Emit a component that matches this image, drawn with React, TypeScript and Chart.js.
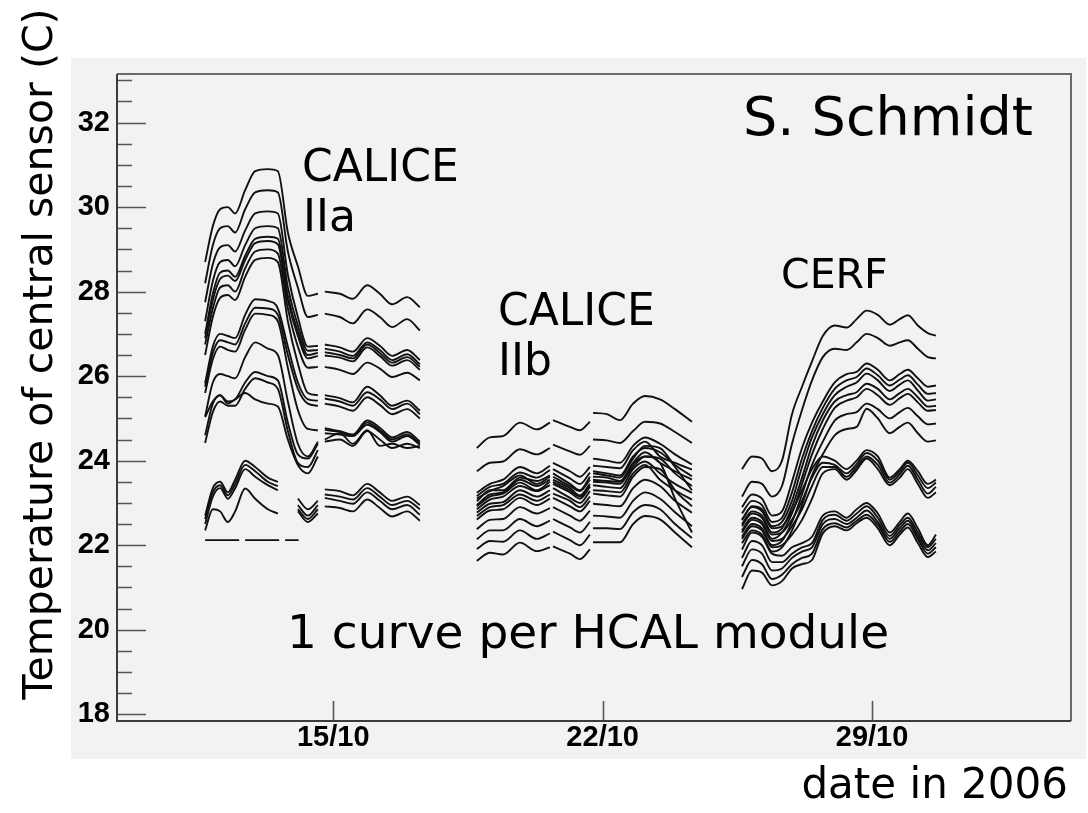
import { useEffect, useRef } from "react";
import { Chart, registerables } from "chart.js";

Chart.register(...registerables);

// Axis ranges: x in days of October 2006, y in degrees C
const dayMin = 9.38;
const dayMax = 34.17;
const tempMin = 17.84;
const tempMax = 33.15;

const dateTicks = [15, 22, 29];
const tempMajorTicks = [18, 20, 22, 24, 26, 28, 30, 32];
const tempMinorTicks = [
  18.5, 19, 19.5, 20.5, 21, 21.5, 22.5, 23, 23.5, 24.5, 25, 25.5, 26.5, 27, 27.5,
  28.5, 29, 29.5, 30.5, 31, 31.5, 32.5, 33,
];

// CALICE IIa run: sample times (day of October) and one row per module
const caliceIIaDays = [
  11.67, 11.87, 12.06, 12.26, 12.45, 12.71, 12.97, 13.3, 13.56, 13.82, 14.08,
  14.34, 14.6, 14.69, 14.78, 15.17, 15.51, 15.88, 16.21, 16.53, 16.92, 17.25,
];
const caliceIIaTemps: (number | null)[][] = [
  [28.7, 29.55, 29.95, 30.0, 29.85, 30.4, 30.85, 30.9, 30.85, 29.4, 28.6, 27.9, 27.95, null, 28.0, 27.95, 27.83, 28.15, 27.95, 27.7, 27.87, 27.63],
  [28.2, 29.1, 29.5, 29.55, 29.4, 29.95, 30.35, 30.4, 30.35, 28.95, 28.1, 27.4, 27.45, null, 27.48, 27.4, 27.25, 27.58, 27.4, 27.16, 27.35, 27.08],
  [27.75, 28.65, 29.05, 29.1, 28.95, 29.45, 29.85, 29.9, 29.85, 28.4, 27.4, 26.7, 26.72, null, 26.75, 26.68, 26.58, 26.9, 26.72, 26.48, 26.62, 26.38],
  [27.3, 28.25, 28.7, 28.75, 28.6, 29.1, 29.5, 29.55, 29.5, 28.1, 27.2, 26.6, 26.62, null, 26.65, 26.58, 26.48, 26.8, 26.62, 26.38, 26.52, 26.28],
  [27.0, 27.95, 28.45, 28.5, 28.35, 28.85, 29.25, 29.3, 29.25, 27.9, 27.05, 26.5, 26.55, null, 26.57, 26.5, 26.42, 26.75, 26.55, 26.32, 26.45, 26.22],
  [26.9, 27.8, 28.3, 28.38, 28.25, 28.75, 29.15, 29.2, 29.12, 27.8, 26.95, 26.42, 26.48, null, 26.49, 26.44, 26.35, 26.68, 26.48, 26.25, 26.38, 26.15],
  [26.75, 27.6, 28.1, 28.15, 28.0, 28.55, 28.95, 29.0, 28.9, 27.6, 26.7, 26.2, 26.22, null, 26.22, 26.15, 26.05, 26.32, 26.18, 25.98, 26.08, 25.9],
  [26.5, 27.4, 27.85, 27.92, 27.8, 28.35, 28.75, 28.8, 28.7, 27.3, 26.3, 25.6, 25.55, null, 25.55, 25.48, 25.38, 25.75, 25.55, 25.3, 25.42, 25.18],
  [25.83, 26.7, 27.0, 26.95, 26.9, 27.45, 27.82, 27.78, 27.6, 26.7, 25.85, 25.45, 25.42, null, 25.47, 25.4, 25.3, 25.62, 25.45, 25.22, 25.35, 25.1],
  [25.75, 26.55, 26.85, 26.8, 26.75, 27.25, 27.62, 27.6, 27.45, 26.5, 25.7, 25.35, 25.3, null, 25.35, 25.28, 25.18, 25.5, 25.32, 25.1, 25.22, 25.0],
  [25.6, 26.4, 26.7, 26.62, 26.58, 27.1, 27.48, 27.45, 27.3, 26.2, 25.2, 24.75, 24.72, null, 24.77, 24.7, 24.62, 24.95, 24.78, 24.55, 24.68, 24.45],
  [25.05, 25.85, 26.05, 26.0, 25.95, 26.45, 26.8, 26.65, 26.5, 25.4, 24.4, 24.1, 24.45, null, 24.73, 24.68, 24.6, 24.9, 24.72, 24.5, 24.62, 24.4],
  [24.6, 25.35, 25.55, 25.4, 25.45, 25.85, 26.1, 26.0, 25.9, 24.9, 24.15, 24.05, 24.4, null, 24.65, 24.62, 24.58, 24.85, 24.68, 24.45, 24.58, 24.38],
  [24.42, 25.15, 25.4, 25.3, 25.3, 25.7, 25.95, 25.85, 25.7, 24.7, 23.95, 23.85, 24.25, null, 24.5, 24.65, 24.4, 24.72, 24.35, 24.4, 24.3, 24.35],
  [25.03, 25.4, 25.55, 25.35, 25.45, 25.6, 25.45, 25.35, 25.28, 24.5, 23.9, 23.7, 24.1, null, 24.45, 24.5, 24.35, 24.7, 24.5, 24.3, 24.4, 24.3],
  [22.7, 23.35, 23.5, 23.25, 23.55, 24.0, 23.85, 23.6, 23.5, null, 23.1, 22.85, 23.05, null, 23.32, 23.28, 23.18, 23.45, 23.25, 23.05, 23.15, 22.95],
  [22.62, 23.25, 23.42, 23.18, 23.45, 23.9, 23.75, 23.5, 23.4, null, 22.95, 22.7, 22.95, null, 23.2, 23.15, 23.08, 23.35, 23.15, 22.95, 23.05, 22.85],
  [22.5, 23.15, 23.35, 23.1, 23.35, 23.8, 23.62, 23.42, 23.3, null, 22.85, 22.62, 22.85, null, 23.12, 23.05, 22.98, 23.25, 23.05, 22.85, 22.95, 22.72],
  [22.35, 22.85, 22.8, 22.55, 22.8, 23.34, 23.1, 22.85, 22.75, null, 22.8, 22.55, 22.75, null, 22.92, 22.88, 22.8, 23.08, 22.88, 22.68, 22.8, 22.58],
];
// one module read a constant value during IIa (drawn dashed)
const caliceIIaFlatDays = [11.67, 14.1];
const caliceIIaFlatTemps = [22.12, 22.12];

// CALICE IIb run
const caliceIIbDays = [
  18.73, 19.07, 19.41, 19.85, 20.29, 20.63, 20.67, 20.71, 21.15, 21.41, 21.67,
  21.71, 21.75, 22.11, 22.45, 22.79, 23.1, 23.49, 23.88, 24.32,
];
const caliceIIbTemps: (number | null)[][] = [
  [24.3, 24.55, 24.58, 24.9, 24.74, 24.9, null, 24.96, 24.8, 24.72, 24.92, null, 25.13, 25.1, 24.96, 25.35, 25.53, 25.45, 25.22, 24.92],
  [23.75, 23.95, 23.98, 24.27, 24.15, 24.3, null, 24.38, 24.22, 24.14, 24.35, null, 24.5, 24.48, 24.42, 24.7, 24.92, 24.88, 24.68, 24.42],
  [23.24, 23.45, 23.55, 23.85, 23.7, 23.88, null, 23.95, 23.75, 23.62, 23.85, null, 24.05, 24.0, 23.95, 24.35, 24.55, 24.4, 24.15, 23.91],
  [23.16, 23.38, 23.45, 23.72, 23.6, 23.78, null, 23.8, 23.58, 23.45, 23.72, null, 23.88, 23.85, 23.82, 24.25, 24.45, 24.1, 23.95, 23.79],
  [23.04, 23.3, 23.3, 23.6, 23.52, 23.65, null, 23.7, 23.45, 23.3, 23.62, null, 23.75, 23.7, 23.65, 24.1, 24.3, 24.2, 23.9, 23.63],
  [22.92, 23.15, 23.22, 23.48, 23.3, 23.5, null, 23.55, 23.35, 23.18, 23.45, null, 23.62, 23.6, 23.52, 23.95, 24.2, 23.95, 23.75, 23.55],
  [22.85, 23.08, 23.15, 23.4, 23.28, 23.42, null, 23.45, 23.25, 23.1, 23.38, null, 23.5, 23.48, 23.45, 23.92, 24.1, 24.05, 23.7, 23.4],
  [22.77, 22.98, 23.02, 23.3, 23.15, 23.3, null, 23.35, 23.12, 23.0, 23.28, null, 23.42, 23.38, 23.35, 23.8, 23.98, 23.7, 23.45, 23.24],
  [22.69, 22.9, 22.95, 23.2, 23.05, 23.2, null, 23.22, 23.05, 22.9, 23.15, null, 23.3, 23.28, 23.25, 23.7, 23.9, 23.55, 23.3, 23.08],
  [22.61, 22.82, 22.85, 23.12, 22.95, 23.1, null, 23.12, 22.92, 22.8, 23.05, null, 23.22, 23.18, 23.15, 23.62, 23.85, 23.8, 23.3, 22.92],
  [22.38, 22.6, 22.62, 22.9, 22.75, 22.88, null, 22.9, 22.7, 22.58, 22.82, null, 22.98, 22.95, 22.92, 23.35, 23.55, 23.4, 23.05, 22.77],
  [22.14, 22.35, 22.35, 22.62, 22.45, 22.58, null, 22.62, 22.42, 22.3, 22.55, null, 22.7, 22.68, 22.65, 23.05, 23.25, 23.1, 22.78, 22.45],
  [21.91, 22.1, 22.08, 22.35, 22.15, 22.28, null, 22.32, 22.12, 22.0, 22.25, null, 22.4, 22.4, 22.38, 22.78, 22.95, 22.85, 22.5, 22.17],
  [21.63, 21.82, 21.78, 22.06, 21.86, 21.95, null, 21.97, 21.8, 21.67, 21.9, null, 22.07, 22.07, 22.07, 22.5, 22.69, 22.61, 22.3, 21.95],
  [23.1, 23.28, 23.4, 23.65, 23.45, 23.62, null, 23.62, 23.4, 23.28, 23.55, null, 23.7, 23.65, 23.6, 24.05, 24.35, 24.3, 23.85, 23.3],
  [22.95, 23.2, 23.25, 23.55, 23.4, 23.55, null, 23.5, 23.3, 23.15, 23.4, null, 23.55, 23.52, 23.5, 23.85, 24.1, 23.95, 23.1, 22.3],
];

// CERF run
const cerfDays = [
  25.62, 25.88, 26.14, 26.4, 26.66, 26.92, 27.18, 27.44, 27.72, 28.03, 28.34,
  28.6, 28.86, 29.15, 29.46, 29.72, 29.93, 30.19, 30.45, 30.66,
];
const cerfTemps: number[][] = [
  [23.8, 24.1, 24.05, 23.75, 24.0, 25.1, 25.75, 26.35, 26.95, 27.2, 27.15, 27.35, 27.55, 27.45, 27.22, 27.35, 27.44, 27.2, 27.02, 26.96],
  [23.15, 23.5, 23.45, 23.15, 23.4, 24.4, 25.2, 25.9, 26.45, 26.65, 26.62, 26.8, 27.0, 26.9, 26.72, 26.8, 26.85, 26.65, 26.45, 26.42],
  [22.9, 23.2, 23.1, 22.7, 22.8, 23.5, 24.3, 24.9, 25.4, 25.85, 26.05, 26.1, 26.3, 26.15, 25.9, 26.05, 26.15, 25.95, 25.75, 25.78],
  [22.75, 23.05, 22.95, 22.55, 22.65, 23.25, 24.05, 24.7, 25.25, 25.7, 25.9, 25.98, 26.18, 26.02, 25.78, 25.92, 26.02, 25.8, 25.58, 25.6],
  [22.6, 22.92, 22.85, 22.45, 22.55, 23.05, 23.85, 24.55, 25.1, 25.55, 25.75, 25.85, 26.06, 25.9, 25.65, 25.8, 25.9, 25.66, 25.42, 25.45],
  [22.5, 22.8, 22.7, 22.3, 22.4, 22.9, 23.6, 24.35, 24.95, 25.4, 25.55, 25.62, 25.82, 25.7, 25.45, 25.6, 25.7, 25.5, 25.28, 25.3],
  [22.35, 22.65, 22.55, 22.15, 22.3, 22.75, 23.45, 24.15, 24.75, 25.25, 25.42, 25.5, 25.7, 25.55, 25.32, 25.48, 25.58, 25.38, 25.18, 25.2],
  [22.2, 22.5, 22.4, 22.0, 22.1, 22.55, 23.2, 23.9, 24.45, 24.95, 25.1, 25.15, 25.35, 25.22, 25.0, 25.15, 25.25, 25.05, 24.86, 24.88],
  [22.05, 22.35, 22.25, 21.85, 21.95, 22.35, 22.95, 23.65, 24.15, 24.6, 24.75, 24.8, 25.23, 25.0, 24.65, 24.8, 24.9, 24.65, 24.45, 24.48],
  [22.6, 22.9, 22.8, 22.4, 22.45, 22.8, 23.3, 23.8, 24.1, 24.0, 23.8, 24.0, 24.25, 24.1, 23.6, 23.8, 24.0, 23.75, 23.45, 23.55],
  [22.45, 22.75, 22.65, 22.25, 22.3, 22.6, 23.05, 23.6, 23.95, 23.9, 23.7, 23.92, 24.18, 24.0, 23.55, 23.75, 23.95, 23.65, 23.35, 23.48],
  [22.3, 22.6, 22.5, 22.1, 22.15, 22.45, 22.85, 23.4, 23.85, 23.85, 23.62, 23.85, 24.1, 23.9, 23.48, 23.68, 23.88, 23.55, 23.22, 23.38],
  [22.15, 22.45, 22.35, 21.95, 22.0, 22.25, 22.6, 23.1, 23.7, 23.8, 23.55, 23.78, 24.05, 23.8, 23.42, 23.6, 23.8, 23.45, 23.12, 23.25],
  [21.9, 22.3, 22.2, 21.8, 21.75, 21.95, 22.05, 22.2, 22.7, 22.8, 22.65, 22.85, 23.0, 22.75, 22.3, 22.55, 22.75, 22.4, 22.0, 22.25],
  [21.7, 22.1, 22.0, 21.6, 21.6, 21.8, 21.95, 22.05, 22.6, 22.72, 22.58, 22.75, 22.92, 22.65, 22.22, 22.48, 22.65, 22.3, 21.95, 22.15],
  [21.5, 21.9, 21.8, 21.4, 21.45, 21.7, 21.85, 21.95, 22.5, 22.62, 22.5, 22.65, 22.82, 22.55, 22.15, 22.4, 22.58, 22.22, 21.88, 22.05],
  [21.25, 21.65, 21.55, 21.2, 21.3, 21.55, 21.7, 21.8, 22.38, 22.52, 22.42, 22.58, 22.72, 22.48, 22.08, 22.32, 22.5, 22.15, 21.8, 21.95],
  [20.96, 21.4, 21.35, 21.05, 21.15, 21.45, 21.55, 21.65, 22.28, 22.45, 22.35, 22.52, 22.65, 22.4, 22.0, 22.25, 22.42, 22.05, 21.72, 21.85],
];

const curveColor = "#111111";
const curveWidth = 1.9;
const textFont = '"DejaVu Sans", "Noto Sans", sans-serif';
const tickFont = '"Liberation Sans", Arial, sans-serif';

function toPoints(days: number[], temps: (number | null)[]) {
  return days.map((d, i) => ({ x: d, y: temps[i] }));
}

function moduleDatasets(days: number[], rows: (number | null)[][]) {
  return rows.map((row) => ({
    data: toPoints(days, row),
    borderColor: curveColor,
    borderWidth: curveWidth,
    pointRadius: 0,
    fill: false,
    spanGaps: false,
    cubicInterpolationMode: "monotone" as const,
  }));
}

// Pad, frame, inward tick marks and annotations in the style of a ROOT canvas
const rootCanvas = {
  id: "rootCanvas",
  beforeDraw(chart: any) {
    const { ctx, width, height } = chart;
    ctx.save();
    ctx.fillStyle = "#ffffff";
    ctx.fillRect(0, 0, width, height);
    ctx.fillStyle = "#f2f2f2";
    ctx.fillRect(71, 58, 1015, 701);
    ctx.restore();
  },
  afterDraw(chart: any) {
    const { ctx, chartArea: a, scales } = chart;
    const xs = scales.x;
    const ys = scales.y;
    ctx.save();

    // tick marks
    ctx.strokeStyle = "#555555";
    ctx.lineWidth = 1.6;
    ctx.beginPath();
    for (const v of tempMajorTicks) {
      const py = Math.round(ys.getPixelForValue(v)) + 0.5;
      ctx.moveTo(a.left, py);
      ctx.lineTo(a.left + 29, py);
    }
    for (const v of tempMinorTicks) {
      const py = Math.round(ys.getPixelForValue(v)) + 0.5;
      ctx.moveTo(a.left, py);
      ctx.lineTo(a.left + 15, py);
    }
    for (const d of dateTicks) {
      const px = Math.round(xs.getPixelForValue(d)) + 0.5;
      ctx.moveTo(px, a.bottom);
      ctx.lineTo(px, a.bottom - 20);
    }
    ctx.stroke();

    // frame
    ctx.lineWidth = 2;
    ctx.strokeStyle = "#6a6a6a";
    ctx.beginPath();
    ctx.moveTo(a.left, a.top);
    ctx.lineTo(a.right, a.top);
    ctx.lineTo(a.right, a.bottom);
    ctx.stroke();
    ctx.strokeStyle = "#3c3c3c";
    ctx.beginPath();
    ctx.moveTo(a.left, a.top);
    ctx.lineTo(a.left, a.bottom);
    ctx.lineTo(a.right, a.bottom);
    ctx.stroke();

    // annotations
    ctx.fillStyle = "#000000";
    ctx.textBaseline = "alphabetic";
    ctx.textAlign = "left";
    ctx.font = `54px ${textFont}`;
    ctx.fillText("S. Schmidt", 743, 135);
    ctx.font = `44px ${textFont}`;
    ctx.fillText("CALICE", 302, 181);
    ctx.fillText("IIa", 303, 231);
    ctx.fillText("CALICE", 498, 325);
    ctx.fillText("IIb", 498, 375);
    ctx.font = `41px ${textFont}`;
    ctx.fillText("CERF", 781, 288);
    ctx.font = `47px ${textFont}`;
    ctx.fillText("1 curve per HCAL module", 287, 648);

    // axis titles
    ctx.font = `42px ${textFont}`;
    ctx.textAlign = "right";
    ctx.fillText("date in 2006", 1068, 798);
    ctx.translate(52, 354);
    ctx.rotate(-Math.PI / 2);
    ctx.textAlign = "center";
    ctx.font = `41px ${textFont}`;
    ctx.fillText("Temperature of central sensor (C)", 0, 0);
    ctx.restore();
  },
};

export default function App() {
  const canvasRef = useRef<HTMLCanvasElement | null>(null);

  useEffect(() => {
    document.body.style.margin = "0";
    const canvas = canvasRef.current;
    if (!canvas) return;

    const datasets = [
      ...moduleDatasets(caliceIIaDays, caliceIIaTemps),
      {
        data: toPoints(caliceIIaFlatDays, caliceIIaFlatTemps),
        borderColor: curveColor,
        borderWidth: curveWidth,
        borderDash: [34, 6],
        pointRadius: 0,
        fill: false,
      },
      ...moduleDatasets(caliceIIbDays, caliceIIbTemps),
      ...moduleDatasets(cerfDays, cerfTemps),
    ];

    const chart = new Chart(canvas, {
      type: "line",
      data: { datasets: datasets as any },
      options: {
        responsive: false,
        animation: false,
        events: [],
        layout: { padding: { left: 0, top: 74, right: 17, bottom: 0 } },
        plugins: {
          legend: { display: false },
          tooltip: { enabled: false },
          title: { display: false },
        },
        scales: {
          x: {
            type: "linear",
            position: "bottom",
            min: dayMin,
            max: dayMax,
            grid: { display: false, drawTicks: false },
            border: { display: false },
            afterBuildTicks: (s: any) => {
              s.ticks = dateTicks.map((v) => ({ value: v }));
            },
            afterFit: (s: any) => {
              s.height = 92;
            },
            ticks: {
              autoSkip: false,
              maxRotation: 0,
              padding: 2,
              color: "#000000",
              font: { family: tickFont, size: 29, weight: "bold", lineHeight: 1 },
              callback: (v: any) => `${v}/10`,
            },
          },
          y: {
            type: "linear",
            position: "left",
            min: tempMin,
            max: tempMax,
            grid: { display: false, drawTicks: false },
            border: { display: false },
            afterBuildTicks: (s: any) => {
              s.ticks = tempMajorTicks.map((v) => ({ value: v }));
            },
            afterFit: (s: any) => {
              s.width = 117;
            },
            ticks: {
              autoSkip: false,
              padding: 7,
              color: "#000000",
              font: { family: tickFont, size: 29, weight: "bold", lineHeight: 1 },
              callback: (v: any) => `${v}`,
            },
          },
        },
      },
      plugins: [rootCanvas],
    });

    return () => chart.destroy();
  }, []);

  return (
    <canvas
      ref={canvasRef}
      width={1088}
      height={813}
      style={{ display: "block", width: 1088, height: 813 }}
    />
  );
}
